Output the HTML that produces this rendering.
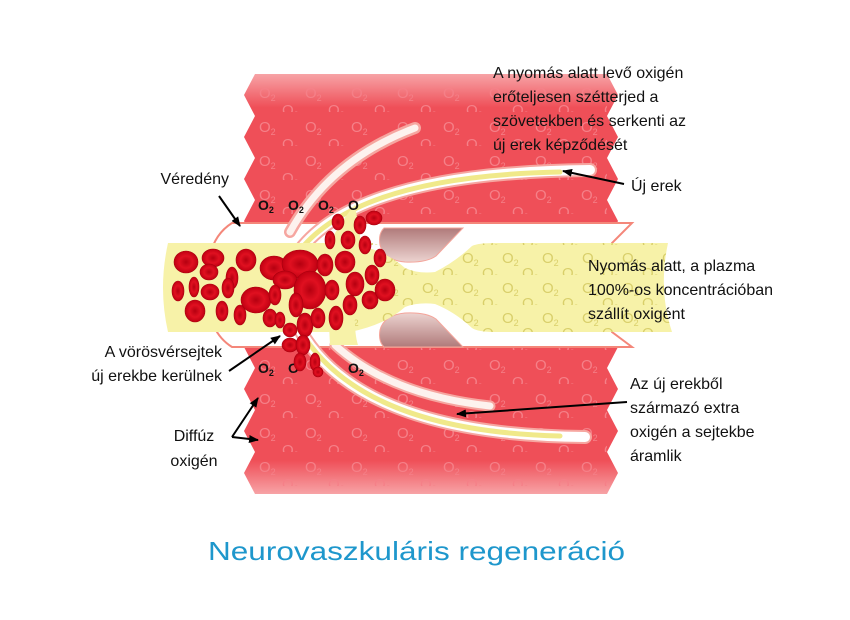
<!DOCTYPE html>
<html><head><meta charset="utf-8"><style>
html,body{margin:0;padding:0;background:#fff;width:850px;height:620px;overflow:hidden}
svg{display:block;font-family:"Liberation Sans",Arial,sans-serif}
</style></head><body>
<svg width="850" height="620" viewBox="0 0 850 620" xmlns="http://www.w3.org/2000/svg">
<defs>
<linearGradient id="tis" x1="0" y1="0" x2="0" y2="1">
<stop offset="0" stop-color="#f7a3a6"/><stop offset="0.08" stop-color="#ef4f58"/><stop offset="0.92" stop-color="#ef4f58"/><stop offset="1" stop-color="#f7a3a6"/>
</linearGradient>
<pattern id="o2" width="46" height="34" patternUnits="userSpaceOnUse" x="255" y="78">
<text x="4" y="20" font-size="15" fill="#f58088">O<tspan font-size="9" dy="3">2</tspan></text>
<text x="27" y="37" font-size="15" fill="#f58088">O<tspan font-size="9" dy="3">2</tspan></text>
</pattern>
<pattern id="o2y" width="40" height="30" patternUnits="userSpaceOnUse" x="380" y="245">
<text x="2" y="18" font-size="15" fill="#d9cf6a">O<tspan font-size="9" dy="3">2</tspan></text>
<text x="22" y="33" font-size="15" fill="#d9cf6a">O<tspan font-size="9" dy="3">2</tspan></text>
</pattern>
<linearGradient id="gap" x1="0" y1="0" x2="0" y2="1">
<stop offset="0" stop-color="#b07a7a"/><stop offset="1" stop-color="#ecd3d0"/>
</linearGradient>
<linearGradient id="gap2" x1="0" y1="1" x2="0" y2="0">
<stop offset="0" stop-color="#b07a7a"/><stop offset="1" stop-color="#ecd3d0"/>
</linearGradient>
<radialGradient id="rbc" cx="0.5" cy="0.5" r="0.5">
<stop offset="0" stop-color="#b50010"/><stop offset="0.55" stop-color="#e01020"/><stop offset="1" stop-color="#c00012"/>
</radialGradient>
<marker id="ah" markerWidth="10" markerHeight="8" refX="9" refY="4" orient="auto" markerUnits="userSpaceOnUse">
<path d="M0,0 L10,4 L0,8 z" fill="#000"/>
</marker>
</defs>

<!-- tissue -->
<polygon fill="url(#tis)" points="255,74 244,95 255,116 244,137 255,158 244,179 255,200 244,221 255,242 244,263 255,284 244,305 255,326 244,347 255,368 244,389 255,410 244,431 255,452 244,473 255,494 607,494 618,473 607,452 618,431 607,410 618,389 607,368 618,347 607,326 618,305 607,284 618,263 607,242 618,221 607,200 618,179 607,158 618,137 607,116 618,95 607,74"/>
<rect x="255" y="80" width="352" height="410" fill="url(#o2)"/>

<!-- vessel outer -->
<path d="M232,223 L632,223 L612,243 L612,332 L632,347 L232,347 Q205,330 208,285 Q205,240 232,223z" fill="#fff" stroke="#f4877a" stroke-width="2"/>
<!-- gaps -->
<path d="M384,228 L463,228 L436,256 Q426,263 405,262 Q384,260 380,245 Q378,234 384,228z" fill="url(#gap)" stroke="#f4a49a" stroke-width="1"/>
<path d="M384,347 L463,347 L436,319 Q426,312 405,313 Q384,315 380,330 Q378,341 384,347z" fill="url(#gap2)" stroke="#f4a49a" stroke-width="1"/>

<!-- branches -->
<g fill="none" stroke-linecap="round">
<path d="M290,232 Q330,160 415,128" stroke="#f6a6a0" stroke-width="12"/>
<path d="M290,232 Q330,160 415,128" stroke="#fdf2ee" stroke-width="7"/>
<path d="M300,250 Q360,172 590,170" stroke="#f6a6a0" stroke-width="14"/>
<path d="M300,250 Q360,172 590,170" stroke="#fff" stroke-width="10"/>
<path d="M300,250 Q360,176 560,172" stroke="#f0e98a" stroke-width="5"/>
<path d="M300,330 Q360,435 585,437" stroke="#f6a6a0" stroke-width="14"/>
<path d="M300,330 Q360,435 585,437" stroke="#fff" stroke-width="10"/>
<path d="M300,330 Q360,431 560,436" stroke="#f0e98a" stroke-width="5"/>
<path d="M335,345 Q390,395 490,406" stroke="#f6a6a0" stroke-width="11"/>
<path d="M335,345 Q390,395 490,406" stroke="#fdf2ee" stroke-width="7"/>
</g>

<!-- yellow plasma -->
<path d="M168,243 L350,243 Q385,250 405,268 Q418,274 435,272 Q455,262 472,246 Q478,243 495,243 L668,243 Q658,290 672,332 L495,332 Q478,332 472,328 Q455,312 435,304 Q418,302 405,307 Q385,325 350,332 L168,332 Q158,288 168,243z" fill="#f7f2a8"/>
<path d="M380,243 L350,243 Q385,250 405,268 Q418,274 435,272 Q455,262 472,246 Q478,243 495,243 L668,243 Q658,290 672,332 L495,332 Q478,332 472,328 Q455,312 435,304 Q418,302 405,307 Q385,325 350,332z" fill="url(#o2y)"/>
<path d="M325,250 Q345,215 355,205 L362,248 Q350,320 358,345 L330,345z" fill="#f7f2a8"/>

<!-- dark O2 -->
<g font-size="14" font-weight="bold" fill="#111">
<text x="258" y="210">O<tspan font-size="9" dy="3">2</tspan></text>
<text x="288" y="210">O<tspan font-size="9" dy="3">2</tspan></text>
<text x="318" y="210">O<tspan font-size="9" dy="3">2</tspan></text>
<text x="348" y="210">O</text>
<text x="258" y="373">O<tspan font-size="9" dy="3">2</tspan></text>
<text x="288" y="373">O</text>
<text x="348" y="373">O<tspan font-size="9" dy="3">2</tspan></text>
</g>

<!-- RBCs -->
<g fill="url(#rbc)" stroke="#a8000e" stroke-width="0.6">
<ellipse cx="186" cy="262" rx="12" ry="11"/><ellipse cx="213" cy="258" rx="11" ry="9"/><ellipse cx="246" cy="260" rx="10" ry="11"/>
<ellipse cx="274" cy="268" rx="14" ry="12"/><ellipse cx="300" cy="264" rx="18" ry="14"/><ellipse cx="285" cy="280" rx="12" ry="9"/>
<ellipse cx="209" cy="272" rx="9" ry="8"/><ellipse cx="232" cy="278" rx="6" ry="11"/><ellipse cx="178" cy="291" rx="6" ry="10"/>
<ellipse cx="194" cy="287" rx="5" ry="10"/><ellipse cx="210" cy="292" rx="9" ry="8"/><ellipse cx="228" cy="288" rx="6" ry="10"/>
<ellipse cx="195" cy="311" rx="10" ry="11"/><ellipse cx="222" cy="311" rx="6" ry="10"/><ellipse cx="240" cy="315" rx="6" ry="10"/>
<ellipse cx="256" cy="300" rx="15" ry="13"/><ellipse cx="270" cy="318" rx="7" ry="9"/><ellipse cx="275" cy="295" rx="6" ry="10"/>
<ellipse cx="310" cy="290" rx="16" ry="19"/><ellipse cx="325" cy="265" rx="8" ry="11"/><ellipse cx="332" cy="290" rx="7" ry="10"/>
<ellipse cx="296" cy="305" rx="7" ry="12"/><ellipse cx="305" cy="325" rx="8" ry="12"/><ellipse cx="290" cy="330" rx="7" ry="7"/>
<ellipse cx="318" cy="318" rx="7" ry="10"/><ellipse cx="336" cy="318" rx="7" ry="12"/><ellipse cx="350" cy="305" rx="7" ry="10"/>
<ellipse cx="345" cy="262" rx="10" ry="11"/><ellipse cx="355" cy="284" rx="9" ry="12"/><ellipse cx="370" cy="300" rx="8" ry="9"/>
<ellipse cx="385" cy="290" rx="10" ry="11"/><ellipse cx="372" cy="275" rx="7" ry="10"/><ellipse cx="380" cy="258" rx="6" ry="9"/>
<ellipse cx="348" cy="240" rx="7" ry="9"/><ellipse cx="360" cy="225" rx="6" ry="9"/><ellipse cx="374" cy="218" rx="8" ry="7"/>
<ellipse cx="338" cy="222" rx="6" ry="8"/><ellipse cx="330" cy="240" rx="5" ry="9"/><ellipse cx="365" cy="245" rx="6" ry="9"/>
<ellipse cx="290" cy="345" rx="8" ry="7"/><ellipse cx="303" cy="345" rx="7" ry="10"/><ellipse cx="300" cy="362" rx="6" ry="9"/>
<ellipse cx="315" cy="362" rx="5" ry="9"/><ellipse cx="318" cy="372" rx="5" ry="5"/><ellipse cx="280" cy="320" rx="5" ry="8"/>
</g>

<!-- arrows -->
<g stroke="#000" stroke-width="2" fill="none" marker-end="url(#ah)">
<line x1="219" y1="196" x2="240" y2="226"/>
<line x1="624" y1="184" x2="563" y2="171"/>
<line x1="229" y1="371" x2="280" y2="336"/>
<line x1="232" y1="437" x2="258" y2="398"/>
<line x1="232" y1="437" x2="258" y2="440"/>
<line x1="627" y1="402" x2="457" y2="414"/>
</g>

<!-- labels -->
<g font-size="16" fill="#111">
<text x="493" y="78">A nyomás alatt levő oxigén</text>
<text x="493" y="102">erőteljesen szétterjed a</text>
<text x="493" y="126">szövetekben és serkenti az</text>
<text x="493" y="150">új erek képződését</text>
<text x="631" y="191">Új erek</text>
<text x="588" y="271">Nyomás alatt, a plazma</text>
<text x="588" y="295">100%-os koncentrációban</text>
<text x="588" y="319">szállít oxigént</text>
<text x="630" y="389">Az új erekből</text>
<text x="630" y="413">származó extra</text>
<text x="630" y="437">oxigén a sejtekbe</text>
<text x="630" y="461">áramlik</text>
<text x="229" y="184" text-anchor="end">Véredény</text>
<text x="222" y="357" text-anchor="end">A vörösvérsejtek</text>
<text x="222" y="381" text-anchor="end">új erekbe kerülnek</text>
<text x="194" y="441" text-anchor="middle">Diffúz</text>
<text x="194" y="466" text-anchor="middle">oxigén</text>
</g>
<text x="208" y="560" font-size="26" fill="#1e97cc" textLength="417" lengthAdjust="spacingAndGlyphs">Neurovaszkuláris regeneráció</text>
</svg>
</body></html>
